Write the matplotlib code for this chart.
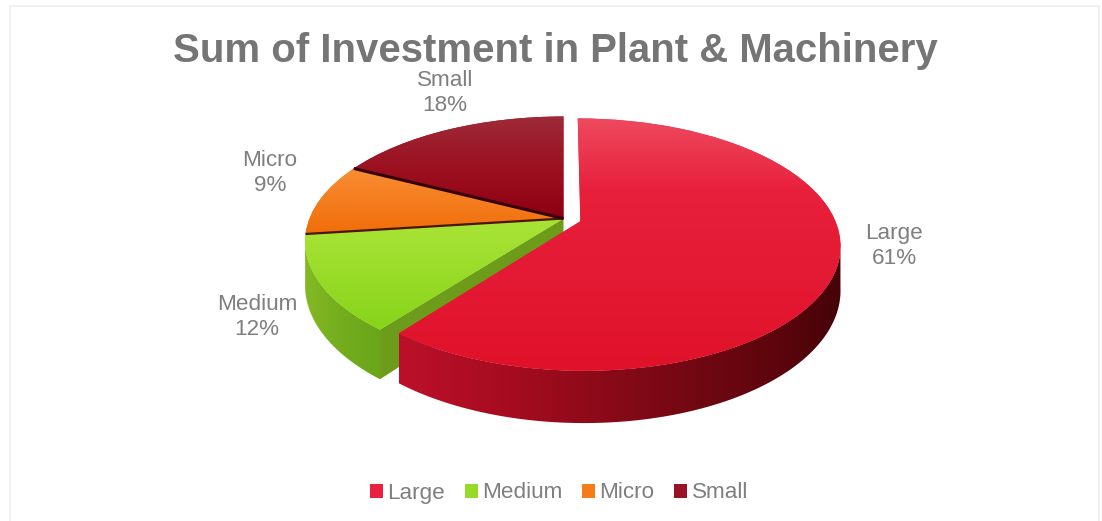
import numpy as np
import matplotlib
matplotlib.use("Agg")
import matplotlib.pyplot as plt
from matplotlib.patches import Patch, Polygon, Rectangle
from matplotlib.transforms import Transform

categories = ["Large", "Medium", "Micro", "Small"]
shares = [60.6, 12.4, 9.4, 17.6]
explode = [0.07, 0, 0, 0]
title = "Sum of Investment in Plant & Machinery"

GRAY = "#7f7f7f"
plt.rcParams["font.family"] = ["Liberation Sans", "DejaVu Sans"]

CX, CY, BX, AY, K, DEPTH = 563.5, 218.5, 254, 120.8, 0.184, 42.5


class Perspective(Transform):
    input_dims = output_dims = 2
    is_separable = False
    has_inverse = False

    def __init__(self, drop=0):
        super().__init__()
        self.drop = drop

    def transform_non_affine(self, values):
        values = np.asarray(values, float)
        u, v = values[:, 0], values[:, 1]
        w = 1 + K * v
        return np.column_stack([CX + BX * u / w, CY + (self.drop - AY * v) / w])


top_map, bottom_map = Perspective(0), Perspective(DEPTH)

fig = plt.figure(figsize=(11.02, 5.21), dpi=100, facecolor="white")
ax = fig.add_axes([0, 0, 1, 1])
wedges, _ = ax.pie(shares, explode=explode, startangle=90, counterclock=False,
                   radius=1, colors=["#e31a38", "#93d822", "#f4780f", "#9b0f20"])
ax.set_aspect("auto")


def gradient(stops, clip, extent, horizontal=False, z=1):
    pos = np.array([s[0] for s in stops], float)
    cols = np.array([s[1] for s in stops], float) / 255
    n = 200
    lo, hi = (extent[0], extent[1]) if horizontal else (extent[2], extent[3])
    t = np.linspace(lo, hi, n)
    arr = np.stack([np.interp(t, pos, cols[:, i]) for i in range(3)], axis=-1)
    arr = arr[None, :, :] if horizontal else arr[:, None, :]
    im = ax.imshow(arr, extent=(extent[0], extent[1], extent[3], extent[2]),
                   aspect="auto", interpolation="bilinear", zorder=z)
    im.set_clip_path(clip)
    return im


def rim(w, th):
    return np.column_stack([w.center[0] + w.r * np.cos(th), w.center[1] + w.r * np.sin(th)])


def outer_side(w, stops, z):
    th = np.radians(np.linspace(w.theta1, w.theta2, 300))
    th = th[np.sin(th) < -K * 0.9]
    uv = rim(w, th)
    pts = np.vstack([top_map.transform(uv), bottom_map.transform(uv)[::-1]])
    poly = Polygon(pts, closed=True, facecolor="none", edgecolor="none",
                   transform=ax.transData, zorder=z)
    ax.add_patch(poly)
    gradient(stops, poly, (pts[:, 0].min(), pts[:, 0].max(), 0, 521), horizontal=True, z=z)


def radial_face(w, theta, color, z):
    uv = np.vstack([w.center, rim(w, np.radians([theta]))])
    pts = np.vstack([top_map.transform(uv), bottom_map.transform(uv)[::-1]])
    ax.add_patch(Polygon(pts, closed=True, facecolor=color, edgecolor="none", zorder=z))


top_stops = [
    [(118, (238, 74, 94)), (190, (232, 32, 60)), (370, (224, 18, 42))],
    [(233, (166, 226, 52)), (327, (136, 212, 26))],
    [(167, (250, 142, 52)), (233, (240, 110, 10))],
    [(115, (158, 44, 58)), (170, (156, 16, 32)), (220, (140, 0, 18))],
]
z_tops = [7, 3, 3, 3]
for w, stops, z in zip(wedges, top_stops, z_tops):
    w.set_transform(top_map + ax.transData)
    w.set_edgecolor("none")
    w.set_zorder(z)
    ext = w.get_path().get_extents(top_map)
    gradient(stops, w, (ext.x0 - 1, ext.x1 + 1, ext.y0 - 1, ext.y1 + 1), z=z + 0.1)

# side walls
outer_side(wedges[1], [(302, (132, 186, 36)), (340, (116, 174, 30)), (385, (104, 164, 26))], 1)
radial_face(wedges[1], wedges[1].theta2, "#6d9c1a", 1.5)
outer_side(wedges[0], [(400, (188, 16, 42)), (500, (168, 12, 32)), (600, (140, 10, 25)),
                       (700, (112, 8, 18)), (780, (92, 5, 12)), (838, (70, 3, 8))], 6)

# dark slice separators
for w, col, lw in [(wedges[2], "#4a1500", 1.6), (wedges[3], "#35000a", 2.2)]:
    uv = np.vstack([w.center, rim(w, np.radians([w.theta2]))])
    pts = top_map.transform(uv)
    ax.plot(pts[:, 0], pts[:, 1], color=col, lw=lw, solid_capstyle="butt", zorder=4)

# data labels
label_pos = [(894, 246), (257, 317), (270, 173), (445, 93)]
for name, val, (x, y) in zip(categories, shares, label_pos):
    ax.text(x, y, f"{name}\n{val:.0f}%", ha="center", va="center", fontsize=16.2,
            color=GRAY, linespacing=1.25, zorder=9)

ax.text(555, 51, title, ha="center", va="center", fontsize=28.9, fontweight="bold",
        color="#757575", zorder=9)

handles = [Patch(facecolor=c, edgecolor="none", label=n)
           for n, c in zip(categories, ["#e9203f", "#98da28", "#f57d18", "#981424"])]
leg = ax.legend(handles=handles, loc="center", bbox_to_anchor=(559 / 1102, 1 - 493 / 521),
                ncol=4, frameon=False, fontsize=16.2, labelcolor=GRAY, handlelength=0.58,
                handleheight=0.58, handletextpad=0.2, columnspacing=0.86, borderpad=0)

ax.add_patch(Rectangle((9.5, 5.5), 1089.5, 520, facecolor="none", edgecolor="#eeeeee", lw=1.2, zorder=0))
ax.set_xlim(0, 1102)
ax.set_ylim(521, 0)
ax.axis("off")
fig.savefig("out.png", dpi=100, facecolor="white")
